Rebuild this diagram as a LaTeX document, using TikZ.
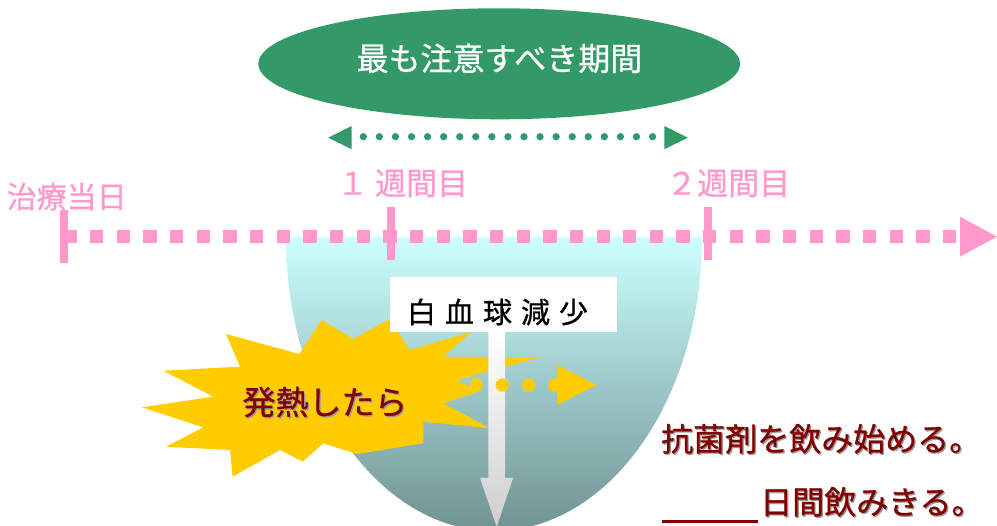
\documentclass[tikz,border=0pt]{standalone}
\usepackage{fontspec}
\setmainfont{Noto Sans CJK JP}[FakeBold=0.8]
\usetikzlibrary{shapes.geometric}
\definecolor{hgreen}{RGB}{51,153,102}
\definecolor{hpink}{RGB}{255,153,204}
\definecolor{hyellow}{RGB}{255,204,0}
\definecolor{hred}{RGB}{128,0,0}
\definecolor{cyantop}{RGB}{204,255,255}
\definecolor{cyanbot}{RGB}{112,146,146}
\definecolor{shadowgray}{RGB}{160,150,150}
\begin{document}
\begin{tikzpicture}[x=1pt,y=-1pt,
  lbl/.style={inner sep=0pt, anchor=base west},
  pinklbl/.style={lbl, text=hpink, font=\fontsize{31}{34}\selectfont},
  redtxt/.style={lbl, text=hred, font=\fontsize{32}{35}\selectfont},
  shadowtxt/.style={lbl, text=shadowgray, font=\fontsize{32}{35}\selectfont},
  axisline/.style={draw=hpink, line width=13.3pt, dash pattern=on 13.33pt off 13.33pt},
  tickline/.style={draw=hpink, line width=8pt},
]
\useasboundingbox (0,0) rectangle (997,526);
% bowl
\shade[top color=cyantop, bottom color=cyanbot] (286,237) -- (702,237) arc[start angle=0,end angle=180,x radius=208,y radius=294] -- cycle;
% time axis
\coordinate (ax0) at (63.3,236.7);
\coordinate (ax1) at (960,236.7);
\draw[axisline] (ax0) -- (ax1);
\fill[hpink] (960,216.7) -- (997,236.7) -- (960,256.7) -- cycle;
\coordinate (t0a) at (64,210);   \coordinate (t0b) at (64,263.3);
\coordinate (t1a) at (391,206.7); \coordinate (t1b) at (391,260);
\coordinate (t2a) at (708,206.7); \coordinate (t2b) at (708,260);
\draw[tickline] (t0a) -- (t0b);
\draw[tickline] (t1a) -- (t1b);
\draw[tickline] (t2a) -- (t2b);
\node[pinklbl, font=\fontsize{30}{33}\selectfont] (day0) at (6.5,208) {治療当日};
\node[pinklbl] (week1) at (337,194.7) {１ 週間目};
\node[pinklbl] (week2) at (666,194.7) {２週間目};
% period ellipse
\node[ellipse, fill=hgreen, minimum width=481.7pt, minimum height=111pt, inner sep=0pt] (period) at (499.2,63.8) {};
\node[inner sep=0pt, anchor=base, text=white, font=\fontsize{32}{36}\selectfont] (periodtxt) at (499.4,70.5) {最も注意すべき期間};
% green double arrow
\coordinate (ga0) at (363.3,136.7);
\coordinate (ga1) at (652.7,136.7);
\draw[hgreen, line width=7.3pt, line cap=round, dash pattern=on 0pt off 16.07pt] (ga0) -- (ga1);
\fill[hgreen] (351.7,126) -- (328.3,137.7) -- (351.7,149.3) -- cycle;
\fill[hgreen] (664.3,126) -- (687.7,137.7) -- (664.3,149.3) -- cycle;
% starburst
\fill[hyellow] (141.7,407.3) -- (213.3,396.7) -- (163.3,370.7) -- (240,366.7) -- (226,334) -- (299.3,354) -- (321.7,320) -- (353.3,339) -- (389.3,319.3) -- (410,350) -- (471.7,331.7) -- (443.3,356.7) -- (540,357.3) -- (456.7,380) -- (478.3,391.7) -- (443.3,403.3) -- (490,428.3) -- (423.3,421.7) -- (423.3,443.3) -- (356.7,454) -- (323.3,443.3) -- (302.7,461.7) -- (280,450) -- (232.7,476.7) -- (230,450) -- (166,446.7) -- (203.3,427.3) -- cycle;
% white box and grey arrow
\node[fill=white, minimum width=227pt, minimum height=55pt, inner sep=0pt] (wbcbox) at (503.5,304.5) {};
\coordinate (arrtip) at (496.7,527);
\shade[top color=white, bottom color=gray!38] (488.3,332) -- (505,332) -- (505,478) -- (513,478) -- (arrtip) -- (480,478) -- (488.3,478) -- cycle;
\node[inner sep=0pt, anchor=base, font=\fontsize{29}{32}\selectfont] (wbc) at (497.5,323) {白\hspace{9pt}血\hspace{9pt}球\hspace{9pt}減\hspace{9pt}少};
% yellow dotted arrow
\coordinate (yd0) at (476,385);
\coordinate (yd1) at (555,385);
\draw[hyellow, line width=13.3pt, line cap=round, dash pattern=on 0pt off 26.3pt] (yd0) -- (yd1);
\fill[hyellow] (557.3,365) -- (596.7,385) -- (557.3,405) -- cycle;
% fever text
\node[inner sep=0pt, anchor=base, text=shadowgray, font=\fontsize{33}{36}\selectfont] (fevsh) at (326.3,415.8) {発熱したら};
\node[inner sep=0pt, anchor=base, text=hred, font=\fontsize{33}{36}\selectfont] (fever) at (325,414.5) {発熱したら};
% antibiotic texts
\node[shadowtxt] (abx1sh) at (662.3,452.3) {抗菌剤を飲み始める。};
\node[redtxt] (abx1) at (661,451) {抗菌剤を飲み始める。};
\node[shadowtxt] (abx2sh) at (761.3,515.3) {日間飲みきる。};
\node[redtxt] (abx2) at (760,514) {日間飲みきる。};
\coordinate (ul0) at (661.7,521.7);
\coordinate (ul1) at (758.3,521.7);
\draw[hred, line width=2.5pt] (ul0) -- (ul1);
\end{tikzpicture}
\end{document}
